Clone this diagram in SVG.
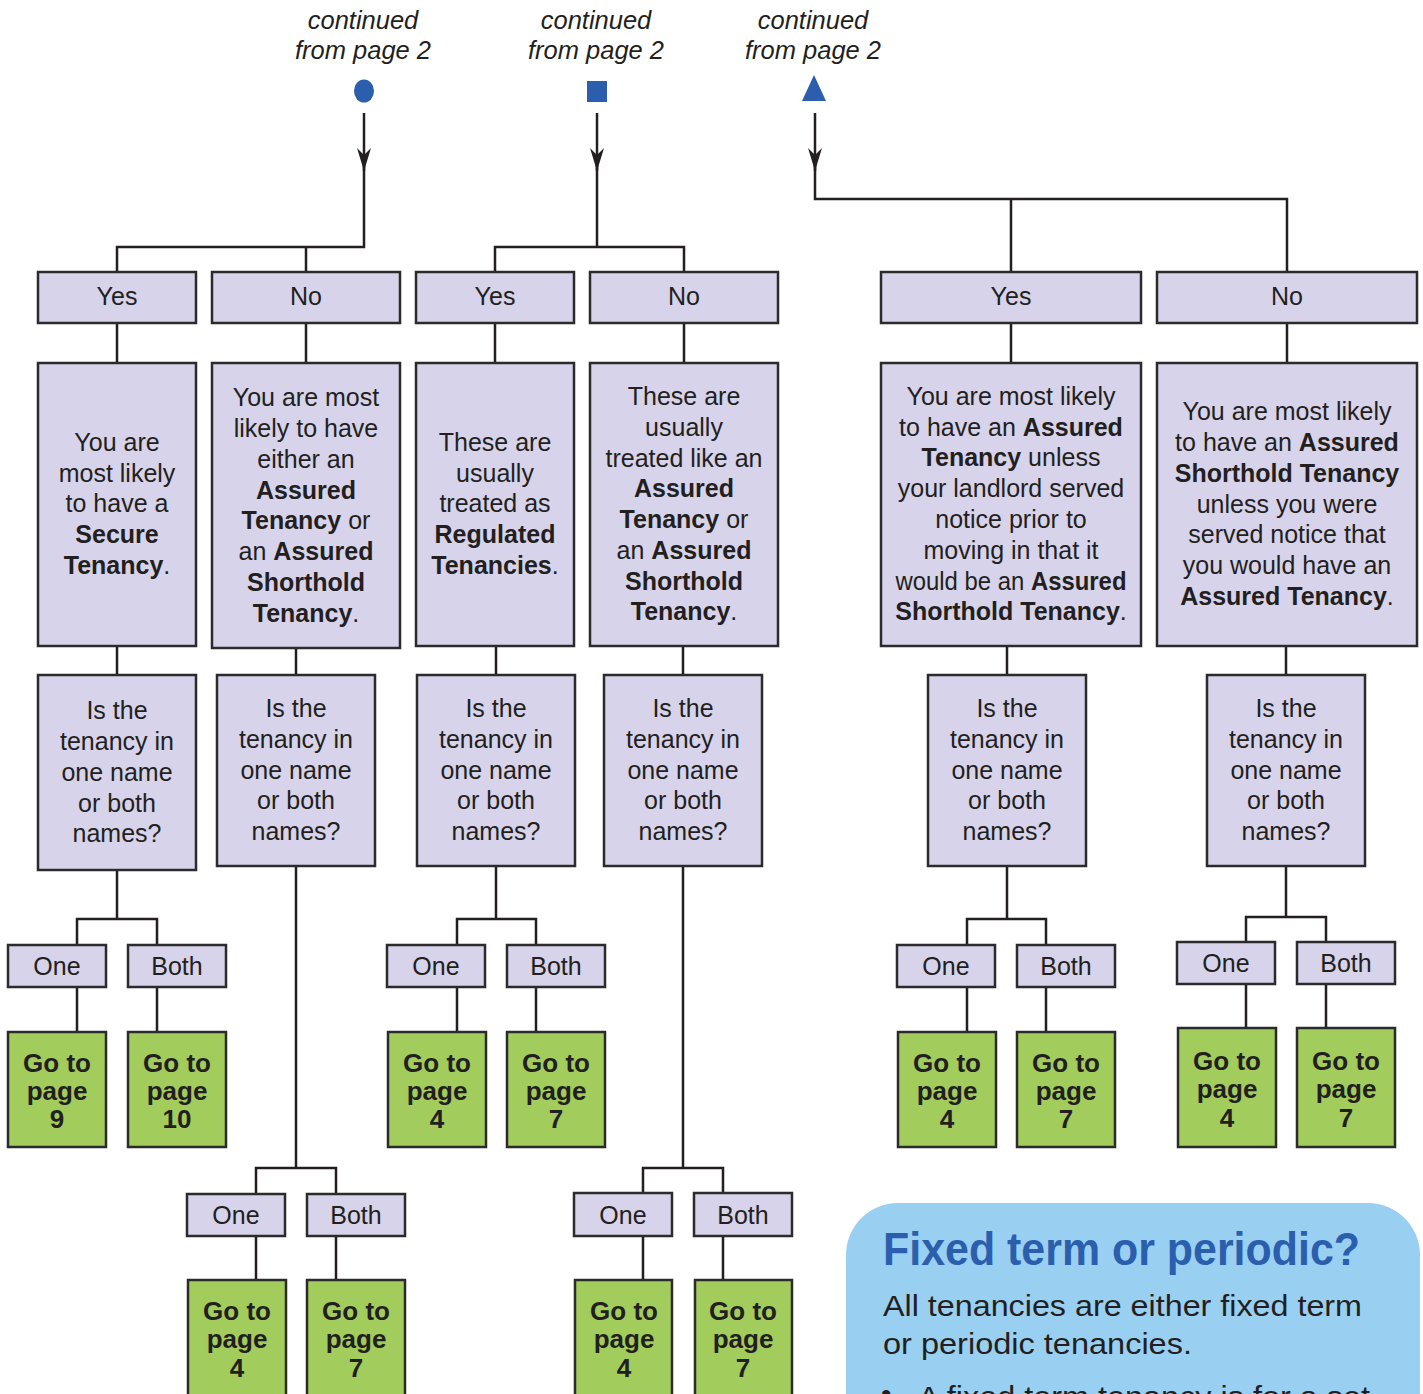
<svg xmlns="http://www.w3.org/2000/svg" width="1423" height="1394" viewBox="0 0 1423 1394">
<style>
.box{fill:#d6d3ea;stroke:#2b2b2b;stroke-width:2.5}
.go{fill:#a2cc5b;stroke:#2b2b2b;stroke-width:2.5}
.t{font-family:"Liberation Sans",Arial,sans-serif;font-size:25px;fill:#231f20;text-anchor:middle}
.g{font-family:"Liberation Sans",Arial,sans-serif;font-size:26px;font-weight:bold;fill:#231f20;text-anchor:middle}
.b{font-weight:bold}
.it{font-family:"Liberation Sans",Arial,sans-serif;font-size:25.5px;font-style:italic;fill:#231f20;text-anchor:middle}
.conn{fill:none;stroke:#231f20;stroke-width:2.5}
.sym{fill:#2b5fae}
.body{font-family:"Liberation Sans",Arial,sans-serif;font-size:30px;fill:#231f20}
</style>
<defs>
<marker id="arr" markerUnits="userSpaceOnUse" viewBox="-24 -8 25 16" refX="0" refY="0" markerWidth="25" markerHeight="16" orient="auto">
<path d="M0,0 L-23,-7 L-16,0 L-23,7 Z" fill="#231f20"/>
</marker>
</defs>

<g id="connectors" class="conn">
<path d="M364,113 V171" marker-end="url(#arr)"/>
<path d="M364,165 V247 H117 V272 M306,247 V272"/>
<path d="M597,113 V171" marker-end="url(#arr)"/>
<path d="M597,165 V247 M495,272 V247 H684 V272"/>
<path d="M815,113 V171" marker-end="url(#arr)"/>
<path d="M815,165 V199 H1287 V272 M1011,199 V272"/>
<path d="M117,323 V363 M306,323 V363 M495,323 V363 M684,323 V363 M1011,323 V363 M1287,323 V363"/>
<path d="M117,646 V675 M296,648 V675 M496,646 V675 M683,646 V675 M1007,646 V675 M1286,646 V675"/>
<path d="M117,870 V919 M77,945 V919 H157 V945 M77,987 V1032 M157,987 V1032"/>
<path d="M496,866 V919 M457,945 V919 H536 V945 M457,987 V1032 M536,987 V1032"/>
<path d="M1007,866 V919 M967,945 V919 H1046 V945 M967,987 V1032 M1046,987 V1032"/>
<path d="M1286,866 V917 M1246,942 V917 H1326 V942 M1246,984 V1028 M1326,984 V1028"/>
<path d="M296,866 V1168 M256,1194 V1168 H336 V1194 M256,1236 V1280 M336,1236 V1280"/>
<path d="M683,866 V1168 M643,1193 V1168 H723 V1193 M643,1236 V1280 M723,1236 V1280"/>
</g>

<g id="start-circle">
<text class="it" x="363" y="29">continued</text>
<text class="it" x="363" y="59">from page 2</text>
<ellipse class="sym" cx="364" cy="91" rx="10" ry="11.5"/>
</g>
<g id="start-square">
<text class="it" x="596" y="29">continued</text>
<text class="it" x="596" y="59">from page 2</text>
<rect class="sym" x="587" y="81" width="20" height="21"/>
</g>
<g id="start-triangle">
<text class="it" x="813" y="29">continued</text>
<text class="it" x="813" y="59">from page 2</text>
<path class="sym" d="M814,75 L826,101 L802,101 Z"/>
</g>

<g id="yes1"><rect class="box" x="38" y="272" width="158" height="51"/><text class="t" x="117" y="305">Yes</text></g>
<g id="no1"><rect class="box" x="212" y="272" width="188" height="51"/><text class="t" x="306" y="305">No</text></g>
<g id="yes2"><rect class="box" x="416" y="272" width="158" height="51"/><text class="t" x="495" y="305">Yes</text></g>
<g id="no2"><rect class="box" x="590" y="272" width="188" height="51"/><text class="t" x="684" y="305">No</text></g>
<g id="yes3"><rect class="box" x="881" y="272" width="260" height="51"/><text class="t" x="1011" y="305">Yes</text></g>
<g id="no3"><rect class="box" x="1157" y="272" width="260" height="51"/><text class="t" x="1287" y="305">No</text></g>

<g id="secure">
<rect class="box" x="38" y="363" width="158" height="283"/>
<text class="t" x="117" y="451">You are</text>
<text class="t" x="117" y="482">most likely</text>
<text class="t" x="117" y="512">to have a</text>
<text class="t b" x="117" y="543">Secure</text>
<text class="t" x="117" y="574"><tspan class="b">Tenancy</tspan>.</text>
</g>
<g id="assured-either">
<rect class="box" x="212" y="363" width="188" height="285"/>
<text class="t" x="306" y="406">You are most</text>
<text class="t" x="306" y="437">likely to have</text>
<text class="t" x="306" y="468">either an</text>
<text class="t b" x="306" y="499">Assured</text>
<text class="t" x="306" y="529"><tspan class="b">Tenancy</tspan> or</text>
<text class="t" x="306" y="560">an <tspan class="b">Assured</tspan></text>
<text class="t b" x="306" y="591">Shorthold</text>
<text class="t" x="306" y="622"><tspan class="b">Tenancy</tspan>.</text>
</g>
<g id="regulated">
<rect class="box" x="416" y="363" width="158" height="283"/>
<text class="t" x="495" y="451">These are</text>
<text class="t" x="495" y="482">usually</text>
<text class="t" x="495" y="512">treated as</text>
<text class="t b" x="495" y="543">Regulated</text>
<text class="t" x="495" y="574"><tspan class="b">Tenancies</tspan>.</text>
</g>
<g id="treated-like">
<rect class="box" x="590" y="363" width="188" height="283"/>
<text class="t" x="684" y="405">These are</text>
<text class="t" x="684" y="436">usually</text>
<text class="t" x="684" y="467">treated like an</text>
<text class="t b" x="684" y="497">Assured</text>
<text class="t" x="684" y="528"><tspan class="b">Tenancy</tspan> or</text>
<text class="t" x="684" y="559">an <tspan class="b">Assured</tspan></text>
<text class="t b" x="684" y="590">Shorthold</text>
<text class="t" x="684" y="620"><tspan class="b">Tenancy</tspan>.</text>
</g>
<g id="assured-unless">
<rect class="box" x="881" y="363" width="260" height="283"/>
<text class="t" x="1011" y="405">You are most likely</text>
<text class="t" x="1011" y="436">to have an <tspan class="b">Assured</tspan></text>
<text class="t" x="1011" y="466"><tspan class="b">Tenancy</tspan> unless</text>
<text class="t" x="1011" y="497">your landlord served</text>
<text class="t" x="1011" y="528">notice prior to</text>
<text class="t" x="1011" y="559">moving in that it</text>
<text class="t" x="1011" y="590" textLength="231" lengthAdjust="spacingAndGlyphs">would be an <tspan class="b">Assured</tspan></text>
<text class="t" x="1011" y="620"><tspan class="b">Shorthold Tenancy</tspan>.</text>
</g>
<g id="shorthold-unless">
<rect class="box" x="1157" y="363" width="260" height="283"/>
<text class="t" x="1287" y="420">You are most likely</text>
<text class="t" x="1287" y="451">to have an <tspan class="b">Assured</tspan></text>
<text class="t b" x="1287" y="482">Shorthold Tenancy</text>
<text class="t" x="1287" y="513">unless you were</text>
<text class="t" x="1287" y="543">served notice that</text>
<text class="t" x="1287" y="574">you would have an</text>
<text class="t" x="1287" y="605"><tspan class="b">Assured Tenancy</tspan>.</text>
</g>

<g id="q1">
<rect class="box" x="38" y="675" width="158" height="195"/>
<text class="t" x="117" y="719">Is the</text>
<text class="t" x="117" y="750">tenancy in</text>
<text class="t" x="117" y="781">one name</text>
<text class="t" x="117" y="812">or both</text>
<text class="t" x="117" y="842">names?</text>
</g>
<g id="q2">
<rect class="box" x="217" y="675" width="158" height="191"/>
<text class="t" x="296" y="717">Is the</text>
<text class="t" x="296" y="748">tenancy in</text>
<text class="t" x="296" y="779">one name</text>
<text class="t" x="296" y="809">or both</text>
<text class="t" x="296" y="840">names?</text>
</g>
<g id="q3">
<rect class="box" x="417" y="675" width="158" height="191"/>
<text class="t" x="496" y="717">Is the</text>
<text class="t" x="496" y="748">tenancy in</text>
<text class="t" x="496" y="779">one name</text>
<text class="t" x="496" y="809">or both</text>
<text class="t" x="496" y="840">names?</text>
</g>
<g id="q4">
<rect class="box" x="604" y="675" width="158" height="191"/>
<text class="t" x="683" y="717">Is the</text>
<text class="t" x="683" y="748">tenancy in</text>
<text class="t" x="683" y="779">one name</text>
<text class="t" x="683" y="809">or both</text>
<text class="t" x="683" y="840">names?</text>
</g>
<g id="q5">
<rect class="box" x="928" y="675" width="158" height="191"/>
<text class="t" x="1007" y="717">Is the</text>
<text class="t" x="1007" y="748">tenancy in</text>
<text class="t" x="1007" y="779">one name</text>
<text class="t" x="1007" y="809">or both</text>
<text class="t" x="1007" y="840">names?</text>
</g>
<g id="q6">
<rect class="box" x="1207" y="675" width="158" height="191"/>
<text class="t" x="1286" y="717">Is the</text>
<text class="t" x="1286" y="748">tenancy in</text>
<text class="t" x="1286" y="779">one name</text>
<text class="t" x="1286" y="809">or both</text>
<text class="t" x="1286" y="840">names?</text>
</g>

<g id="one1"><rect class="box" x="8" y="945" width="98" height="42"/><text class="t" x="57" y="975">One</text></g>
<g id="both1"><rect class="box" x="128" y="945" width="98" height="42"/><text class="t" x="177" y="975">Both</text></g>
<g id="one3"><rect class="box" x="387" y="945" width="98" height="42"/><text class="t" x="436" y="975">One</text></g>
<g id="both3"><rect class="box" x="507" y="945" width="98" height="42"/><text class="t" x="556" y="975">Both</text></g>
<g id="one5"><rect class="box" x="897" y="945" width="98" height="42"/><text class="t" x="946" y="975">One</text></g>
<g id="both5"><rect class="box" x="1017" y="945" width="98" height="42"/><text class="t" x="1066" y="975">Both</text></g>
<g id="one6"><rect class="box" x="1177" y="942" width="98" height="42"/><text class="t" x="1226" y="972">One</text></g>
<g id="both6"><rect class="box" x="1297" y="942" width="98" height="42"/><text class="t" x="1346" y="972">Both</text></g>
<g id="one2"><rect class="box" x="187" y="1194" width="98" height="42"/><text class="t" x="236" y="1224">One</text></g>
<g id="both2"><rect class="box" x="307" y="1194" width="98" height="42"/><text class="t" x="356" y="1224">Both</text></g>
<g id="one4"><rect class="box" x="574" y="1193" width="98" height="43"/><text class="t" x="623" y="1224">One</text></g>
<g id="both4"><rect class="box" x="694" y="1193" width="98" height="43"/><text class="t" x="743" y="1224">Both</text></g>

<g id="go9"><rect class="go" x="8" y="1032" width="98" height="115"/><text class="g" x="57" y="1072">Go to</text><text class="g" x="57" y="1100">page</text><text class="g" x="57" y="1128">9</text></g>
<g id="go10"><rect class="go" x="128" y="1032" width="98" height="115"/><text class="g" x="177" y="1072">Go to</text><text class="g" x="177" y="1100">page</text><text class="g" x="177" y="1128">10</text></g>
<g id="go4-c3"><rect class="go" x="388" y="1032" width="98" height="115"/><text class="g" x="437" y="1072">Go to</text><text class="g" x="437" y="1100">page</text><text class="g" x="437" y="1128">4</text></g>
<g id="go7-c3"><rect class="go" x="507" y="1032" width="98" height="115"/><text class="g" x="556" y="1072">Go to</text><text class="g" x="556" y="1100">page</text><text class="g" x="556" y="1128">7</text></g>
<g id="go4-c5"><rect class="go" x="898" y="1032" width="98" height="115"/><text class="g" x="947" y="1072">Go to</text><text class="g" x="947" y="1100">page</text><text class="g" x="947" y="1128">4</text></g>
<g id="go7-c5"><rect class="go" x="1017" y="1032" width="98" height="115"/><text class="g" x="1066" y="1072">Go to</text><text class="g" x="1066" y="1100">page</text><text class="g" x="1066" y="1128">7</text></g>
<g id="go4-c6"><rect class="go" x="1178" y="1028" width="98" height="119"/><text class="g" x="1227" y="1070">Go to</text><text class="g" x="1227" y="1098">page</text><text class="g" x="1227" y="1127">4</text></g>
<g id="go7-c6"><rect class="go" x="1297" y="1028" width="98" height="119"/><text class="g" x="1346" y="1070">Go to</text><text class="g" x="1346" y="1098">page</text><text class="g" x="1346" y="1127">7</text></g>
<g id="go4-c2"><rect class="go" x="188" y="1280" width="98" height="130"/><text class="g" x="237" y="1320">Go to</text><text class="g" x="237" y="1348">page</text><text class="g" x="237" y="1377">4</text></g>
<g id="go7-c2"><rect class="go" x="307" y="1280" width="98" height="130"/><text class="g" x="356" y="1320">Go to</text><text class="g" x="356" y="1348">page</text><text class="g" x="356" y="1377">7</text></g>
<g id="go4-c4"><rect class="go" x="575" y="1280" width="97" height="130"/><text class="g" x="624" y="1320">Go to</text><text class="g" x="624" y="1348">page</text><text class="g" x="624" y="1377">4</text></g>
<g id="go7-c4"><rect class="go" x="695" y="1280" width="97" height="130"/><text class="g" x="743" y="1320">Go to</text><text class="g" x="743" y="1348">page</text><text class="g" x="743" y="1377">7</text></g>

<g id="info">
<rect x="846" y="1203" width="574" height="320" rx="52" ry="52" fill="#99d0f2"/>
<text x="883" y="1265" font-family="'Liberation Sans Narrow','Liberation Sans',Arial,sans-serif" font-size="46" font-weight="bold" fill="#2b5fae" textLength="477" lengthAdjust="spacingAndGlyphs">Fixed term or periodic?</text>
<text class="body" x="883" y="1316" textLength="479" lengthAdjust="spacingAndGlyphs">All tenancies are either fixed term</text>
<text class="body" x="883" y="1354" textLength="309" lengthAdjust="spacingAndGlyphs">or periodic tenancies.</text>
<text class="body" x="881" y="1404" fill="#2b5fae">•</text>
<text class="body" x="918" y="1407" textLength="452" lengthAdjust="spacingAndGlyphs">A fixed term tenancy is for a set</text>
</g>
</svg>
